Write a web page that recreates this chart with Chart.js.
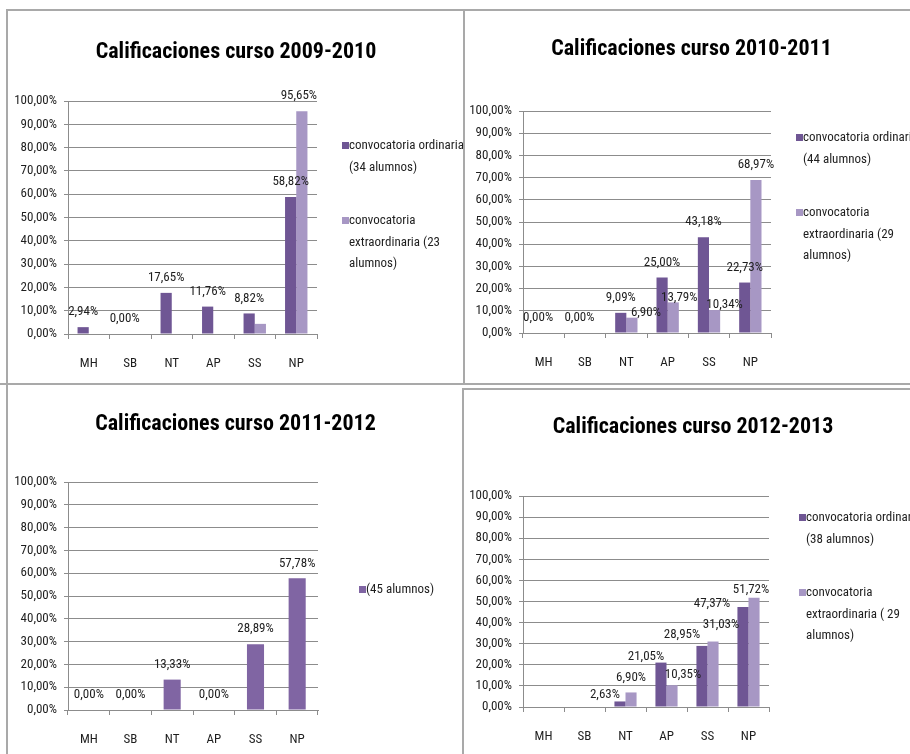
<!DOCTYPE html>
<html lang="es">
<head>
<meta charset="UTF-8">
<title>Calificaciones por curso</title>
<script src="https://cdn.jsdelivr.net/npm/chart.js@4"></script>
<style>
  html, body { margin: 0; padding: 0; background: #fff; width: 910px; height: 754px; overflow: hidden; }
  .panel { position: absolute; box-sizing: border-box; border-left: 2px solid #a9a9a9; border-top: 2px solid #a9a9a9; }
  .rule { position: absolute; left: 0; width: 910px; height: 2px; background: #a9a9a9; }
  #p1 { left: 6px; top: 9px; width: 458px; height: 374px; }
  #p2 { left: 463px; top: 9px; width: 455px; height: 374px; }
  #p3 { left: 6px; top: 383px; width: 457px; height: 371px; }
  #p4 { left: 462px; top: 388px; width: 460px; height: 366px; }
</style>
</head>
<body>
<div class="panel" id="p1"><canvas id="c1"></canvas></div>
<div class="panel" id="p2"><canvas id="c2"></canvas></div>
<div class="rule" style="top:383px"></div>
<div class="panel" id="p3"><canvas id="c3"></canvas></div>
<div class="panel" id="p4"><canvas id="c4"></canvas></div>

<script>
  // data (percent of students)
  const grades = ['MH', 'SB', 'NT', 'AP', 'SS', 'NP'];
  const yTicks = [0, 10, 20, 30, 40, 50, 60, 70, 80, 90, 100];

  const ord0910 = [2.94, 0, 17.65, 11.76, 8.82, 58.82];
  const ext0910 = [0, 0, 0, 0, 4.35, 95.65];
  const ord1011 = [0, 0, 9.09, 25.00, 43.18, 22.73];
  const ext1011 = [0, 0, 6.90, 13.79, 10.34, 68.97];
  const all1112 = [0, 0, 13.33, 0, 28.89, 57.78];
  const ord1213 = [0, 0, 2.63, 21.05, 28.95, 47.37];
  const ext1213 = [0, 0, 6.90, 10.35, 31.03, 51.72];

  // value label placement per bar: null = no label, [dx, dy] = nudge from default spot
  const ALL = [[0, 0], [0, 0], [0, 0], [0, 0], [0, 0], [0, 0]];
  const lblExt0910 = [null, null, null, null, null, [-3, 0]];
  const lblExt1011 = [null, null, [14, 10], [6, 10], [10, 10], [0, 0]];
  const lblOrd1213 = [null, null, [-15, 8], [-15, 9], [-20, 4], [-31, 12]];
  const lblExt1213 = [null, null, [0, 0], [11, 5], [8, -2], [-3, 7]];

  // narrow face like the Calibri of the original; 'condensed' goes in front of the size
  const FONT = "'Roboto Condensed', 'Noto Sans', 'DejaVu Sans Condensed', sans-serif";
  const NARROW = 'condensed';
  const DARK = '#6f5694';
  const LIGHT = '#a797c4';
  const MID = '#8065a3';
  const GRID = '#8c8c8c';
  const TEXT = '#1e1e1e';

  Chart.defaults.font.family = FONT;
  Chart.defaults.font.size = 13;
  Chart.defaults.font.weight = NARROW;
  Chart.defaults.color = TEXT;

  const pct = v => v.toFixed(2).replace('.', ',') + '%';

  const valueLabels = {
    id: 'valueLabels',
    afterDatasetsDraw(chart) {
      const { ctx } = chart;
      ctx.save();
      ctx.font = `${NARROW} 13px ${FONT}`;
      ctx.fillStyle = TEXT;
      ctx.textAlign = 'center';
      ctx.textBaseline = 'middle';
      chart.data.datasets.forEach((ds, i) => {
        chart.getDatasetMeta(i).data.forEach((bar, j) => {
          const nudge = ds.labelPos[j];
          if (!nudge) return;
          ctx.fillText(pct(ds.data[j]), bar.x + nudge[0], bar.y - 15 + nudge[1]);
        });
      });
      ctx.restore();
    }
  };

  const sideLegend = {
    id: 'sideLegend',
    afterDraw(chart, args, opts) {
      const { ctx, chartArea } = chart;
      const x = chartArea.right + opts.dx;
      let y = chartArea.top + opts.dy;
      ctx.save();
      ctx.font = `${NARROW} 13px ${FONT}`;
      ctx.textAlign = 'left';
      ctx.textBaseline = 'middle';
      chart.data.datasets.forEach(ds => {
        ctx.fillStyle = ds.backgroundColor;
        ctx.fillRect(x, y - 4, 7, 7);
        ctx.fillStyle = TEXT;
        ds.legendLines.forEach((line, k) => ctx.fillText(line, x + 7, y + k * 21.5));
        y += 75;
      });
      ctx.restore();
    }
  };

  const makeChart = (canvasId, title, series, box) => new Chart(document.getElementById(canvasId), {
    type: 'bar',
    data: {
      labels: grades,
      datasets: series.map(s => ({
        label: s.legendLines.join(' '),
        data: s.data,
        backgroundColor: s.color,
        legendLines: s.legendLines,
        labelPos: s.labelPos,
        barPercentage: 1,
        categoryPercentage: series.length > 1 ? 0.54 : 0.41
      }))
    },
    options: {
      responsive: true,
      maintainAspectRatio: false,
      animation: false,
      layout: { padding: 0 },
      plugins: {
        legend: { display: false },
        tooltip: { enabled: false },
        title: {
          display: true,
          text: title,
          color: '#000',
          font: { size: 22, weight: `bold ${NARROW}`, family: FONT },
          padding: { top: box.titleTop, bottom: box.titleBottom }
        },
        sideLegend: { dx: box.legendX, dy: box.legendY }
      },
      scales: {
        x: {
          grid: { display: true, drawOnChartArea: false, drawTicks: true, tickLength: 5, color: GRID },
          border: { display: true, color: GRID },
          ticks: { padding: 17, color: TEXT },
          afterFit: s => { s.height = box.xHeight; }
        },
        y: {
          min: 0,
          max: 100,
          afterBuildTicks: s => { s.ticks = yTicks.map(v => ({ value: v })); },
          grid: { color: GRID, tickLength: 4 },
          border: { display: true, color: GRID },
          ticks: { padding: 7, color: TEXT, callback: v => pct(v) },
          afterFit: s => { s.width = box.yWidth; }
        },
        // empty axis that just keeps room for the legend on the right
        pad: {
          type: 'linear',
          position: 'right',
          display: true,
          grid: { display: false },
          border: { display: false },
          ticks: { display: false },
          afterFit: s => { s.width = box.reserve; }
        }
      }
    },
    plugins: [valueLabels, sideLegend]
  });

  makeChart('c1', 'Calificaciones curso 2009-2010', [
    { data: ord0910, color: DARK, labelPos: ALL, legendLines: ['convocatoria ordinaria', '(34 alumnos)'] },
    { data: ext0910, color: LIGHT, labelPos: lblExt0910, legendLines: ['convocatoria', 'extraordinaria (23', 'alumnos)'] }
  ], { titleTop: 28, titleBottom: 35.6, yWidth: 60, xHeight: 49, reserve: 147, legendX: 25, legendY: 45 });

  makeChart('c2', 'Calificaciones curso 2010-2011', [
    { data: ord1011, color: DARK, labelPos: ALL, legendLines: ['convocatoria ordinaria', '(44 alumnos)'] },
    { data: ext1011, color: LIGHT, labelPos: lblExt1011, legendLines: ['convocatoria', 'extraordinaria (29', 'alumnos)'] }
  ], { titleTop: 25, titleBottom: 48.6, yWidth: 58, xHeight: 50, reserve: 147, legendX: 25, legendY: 27 });

  makeChart('c3', 'Calificaciones curso 2011-2012', [
    { data: all1112, color: MID, labelPos: ALL, legendLines: ['(45 alumnos)'] }
  ], { titleTop: 26, titleBottom: 44.6, yWidth: 60, xHeight: 44, reserve: 145, legendX: 41, legendY: 108 });

  makeChart('c4', 'Calificaciones curso 2012-2013', [
    { data: ord1213, color: DARK, labelPos: lblOrd1213, legendLines: ['convocatoria ordinaria', '(38 alumnos)'] },
    { data: ext1213, color: LIGHT, labelPos: lblExt1213, legendLines: ['convocatoria', 'extraordinaria ( 29', 'alumnos)'] }
  ], { titleTop: 24, titleBottom: 55.6, yWidth: 59, xHeight: 47, reserve: 153, legendX: 30, legendY: 22 });
</script>
</body>
</html>
